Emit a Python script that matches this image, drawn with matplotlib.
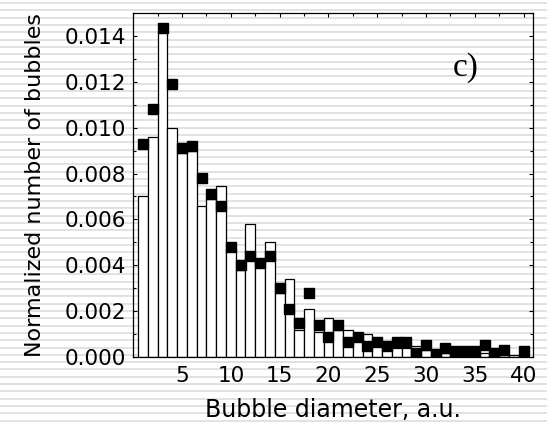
import numpy as np
import matplotlib
matplotlib.use("Agg")
import matplotlib.pyplot as plt
from matplotlib.patches import Rectangle
from matplotlib.ticker import MultipleLocator, FormatStrFormatter

# ---- data ----
diameters = list(range(1, 41))
hist_values = [0.0070, 0.0096, 0.0142, 0.0100, 0.0089, 0.0090, 0.0066, 0.0069, 0.00745, 0.0047,
               0.0038, 0.0058, 0.0043, 0.0050, 0.0028, 0.0034, 0.0012, 0.0021, 0.0011, 0.0017,
               0.0012, 0.0012, 0.0007, 0.0010, 0.0005, 0.0003, 0.0004, 0.0004, 0.0005, 0.0003,
               0.0001, 0.0002, 0.0002, 0.0001, 0.0001, 0.0002, 0.0001, 0.0001, 0.0001, 0.0001]
point_values = [0.0093, 0.0108, 0.01435, 0.0119, 0.0091, 0.0092, 0.0078, 0.0071, 0.0066, 0.0048,
                0.0040, 0.0044, 0.0041, 0.0044, 0.0030, 0.0021, 0.0015, 0.0028, 0.0014, 0.0009,
                0.0014, 0.00065, 0.0009, 0.0005, 0.00065, 0.0005, 0.00065, 0.00065, 0.0002, 0.00055,
                0.00015, 0.0004, 0.00027, 0.00027, 0.00027, 0.00055, 0.0002, 0.0003, np.nan, 0.00027]
x_label = "Bubble diameter, a.u."
y_label = "Normalized number of bubbles"
panel_label = "c)"

W, H, DPI = 547, 424, 100
fig = plt.figure(figsize=(W / DPI, H / DPI), dpi=DPI)
fig.patch.set_facecolor("white")

# striped background
period = 7.33
y = 2.0
while y < H:
    fig.patches.append(Rectangle((0, 1 - (y + 2.0) / H), 1, 2.0 / H, transform=fig.transFigure,
                                 facecolor="#e2e2e2", edgecolor="none", zorder=-10))
    y += period

ax = fig.add_axes([133.3 / W, 1 - 357.3 / H, 400.0 / W, (357.3 - 12.7) / H])
ax.set_facecolor("none")

ax.bar(diameters, hist_values, width=1.0, color="white", edgecolor="black", linewidth=0.9, zorder=2)
ax.plot(diameters, point_values, linestyle="none", marker="s", markersize=6.5,
        color="black", zorder=3)

ax.set_xlim(0, 41)
ax.set_ylim(0, 0.015)

ax.xaxis.set_major_locator(MultipleLocator(5))
ax.xaxis.set_minor_locator(MultipleLocator(2.5))
ax.yaxis.set_major_locator(MultipleLocator(0.002))
ax.yaxis.set_minor_locator(MultipleLocator(0.001))
ax.yaxis.set_major_formatter(FormatStrFormatter("%.3f"))
ax.set_xticks([5, 10, 15, 20, 25, 30, 35, 40])

ax.tick_params(which="both", direction="in", top=True, right=True, width=0.8)
ax.tick_params(which="major", length=3.2)
ax.tick_params(which="minor", length=2.4)
ax.tick_params(axis="y", which="major", labelsize=15.5, pad=5.5)
ax.tick_params(axis="x", which="major", labelsize=15.5, pad=6)
for sp in ax.spines.values():
    sp.set_linewidth(0.9)

ax.set_xlabel(x_label, fontsize=17, labelpad=9)
ax.set_ylabel(y_label, fontsize=16, labelpad=14)

ax.text(0.83, 0.84, panel_label, transform=ax.transAxes, fontsize=24,
        family="Liberation Serif", ha="center", va="center")

fig.savefig("out.png", dpi=DPI)
